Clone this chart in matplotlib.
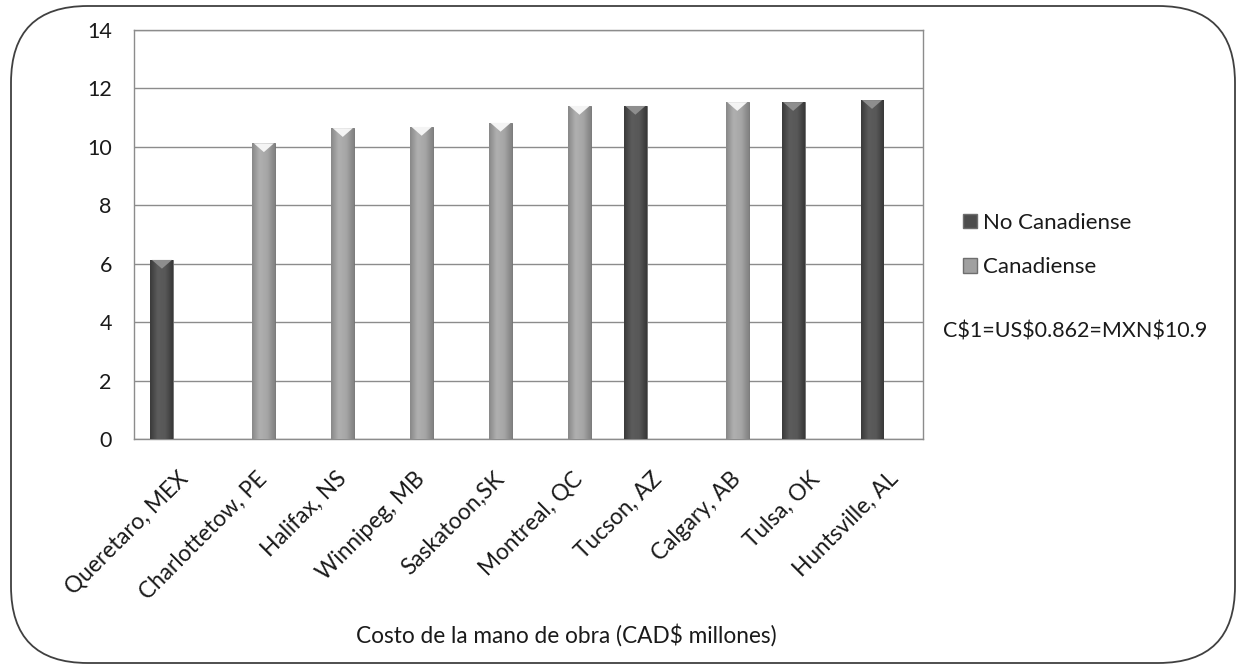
import matplotlib
matplotlib.use("Agg")
import matplotlib.pyplot as plt
import matplotlib.transforms as mtransforms
import numpy as np
from matplotlib.patches import FancyBboxPatch, Polygon, Rectangle
from matplotlib.colors import LinearSegmentedColormap

plt.rcParams['font.family'] = ['Lato', 'DejaVu Sans']

categories = ["Queretaro, MEX", "Charlottetow, PE", "Halifax, NS", "Winnipeg, MB",
              "Saskatoon,SK", "Montreal, QC", "Tucson, AZ", "Calgary, AB",
              "Tulsa, OK", "Huntsville, AL"]
no_canadiense = [6.13, None, None, None, None, None, 11.4, None, 11.53, 11.6]
canadiense = [None, 10.12, 10.64, 10.68, 10.82, 11.4, None, 11.53, None, None]
series_names = ["No Canadiense", "Canadiense"]
yticks = [0, 2, 4, 6, 8, 10, 12, 14]
note = "C$1=US$0.862=MXN$10.9"
xlabel = "Costo de la mano de obra (CAD$ millones)"

TXT = "#1a1a1a"
W, H = 1237, 666
fig = plt.figure(figsize=(W / 100, H / 100), dpi=100)
fig.patch.set_facecolor("white")

# rounded outer frame
frame = FancyBboxPatch((11 / W, 3 / H), (1235 - 11) / W, (660 - 3) / H,
                       boxstyle="round,pad=0,rounding_size=0.062",
                       transform=fig.transFigure, facecolor="none",
                       edgecolor="#404040", linewidth=1.3, mutation_aspect=W / H)
fig.patches.append(frame)

ax = fig.add_axes([134 / W, 1 - 439 / H, 789 / W, 409 / H])
ax.set_yticks(yticks)
ax.yaxis.grid(True, color="#8c8c8c", linewidth=1.0)
ax.set_axisbelow(True)
for s in ax.spines.values():
    s.set_color("#8c8c8c")
    s.set_linewidth(1.0)
ax.tick_params(axis="both", length=0, colors=TXT)
ax.tick_params(axis="y", pad=16, labelsize=15.5)
ax.tick_params(axis="x", pad=21, labelsize=16.3)

x = np.arange(len(categories))
bw = 0.29
off = 0.146
dark_cmap = LinearSegmentedColormap.from_list("d", ["#3a3a3a", "#5c5c5c", "#585858", "#383838"])
light_cmap = LinearSegmentedColormap.from_list("l", ["#888888", "#b0b0b0", "#a6a6a6", "#828282"])
grad = np.linspace(0, 1, 64).reshape(1, -1)

def draw(vals, dx, cmap, base, tri):
    xs = [xi + dx for xi, v in zip(x, vals) if v is not None]
    hs = [v for v in vals if v is not None]
    bars = ax.bar(xs, hs, width=bw, color=base, edgecolor="#6e6e6e", linewidth=0.6, zorder=3)
    for b in bars:
        x0, y0 = b.get_x(), b.get_y()
        w, h = b.get_width(), b.get_height()
        im = ax.imshow(grad, cmap=cmap, extent=[x0, x0 + w, y0, y0 + h],
                       aspect="auto", zorder=3.5, interpolation="bicubic")
        im.set_clip_path(b)
        t = Polygon([[x0 + 0.06 * w, y0 + h], [x0 + 0.94 * w, y0 + h], [x0 + 0.5 * w, y0 + h - 0.3]],
                    closed=True, facecolor=tri, edgecolor="none", zorder=4)
        ax.add_patch(t)
    return bars

b1 = draw(no_canadiense, -off, dark_cmap, "#4d4d4d", "#8e8e8e")
b2 = draw(canadiense, off, light_cmap, "#a0a0a0", "#f4f4f4")
ax.set_xlim(-0.5, len(categories) - 0.5)
ax.set_ylim(0, 14)

ax.set_xticks(x)
ax.set_xticklabels(categories, rotation=45, ha="right", rotation_mode="anchor")
shift = mtransforms.ScaledTranslation(3 / 72, 0, fig.dpi_scale_trans)
for lbl in ax.get_xticklabels():
    lbl.set_transform(lbl.get_transform() + shift)

leg = ax.legend([Rectangle((0, 0), 1, 1, facecolor="#4d4d4d", edgecolor="#6e6e6e"),
                 Rectangle((0, 0), 1, 1, facecolor="#a0a0a0", edgecolor="#6e6e6e")],
                series_names, loc="upper left", bbox_to_anchor=(963 / W, 1 - 213 / H),
                bbox_transform=fig.transFigure, frameon=False, fontsize=16,
                handlelength=0.62, handleheight=0.62, handletextpad=0.3, labelspacing=1.1,
                borderaxespad=0, borderpad=0)
for t in leg.get_texts():
    t.set_color(TXT)

fig.text(943 / W, 1 - 332 / H, note, fontsize=15.5, color=TXT, va="center", ha="left")
fig.text(566 / W, 1 - 635 / H, xlabel, fontsize=16.3, color=TXT, va="center", ha="center")

fig.savefig("out.png", dpi=100, facecolor="white")
